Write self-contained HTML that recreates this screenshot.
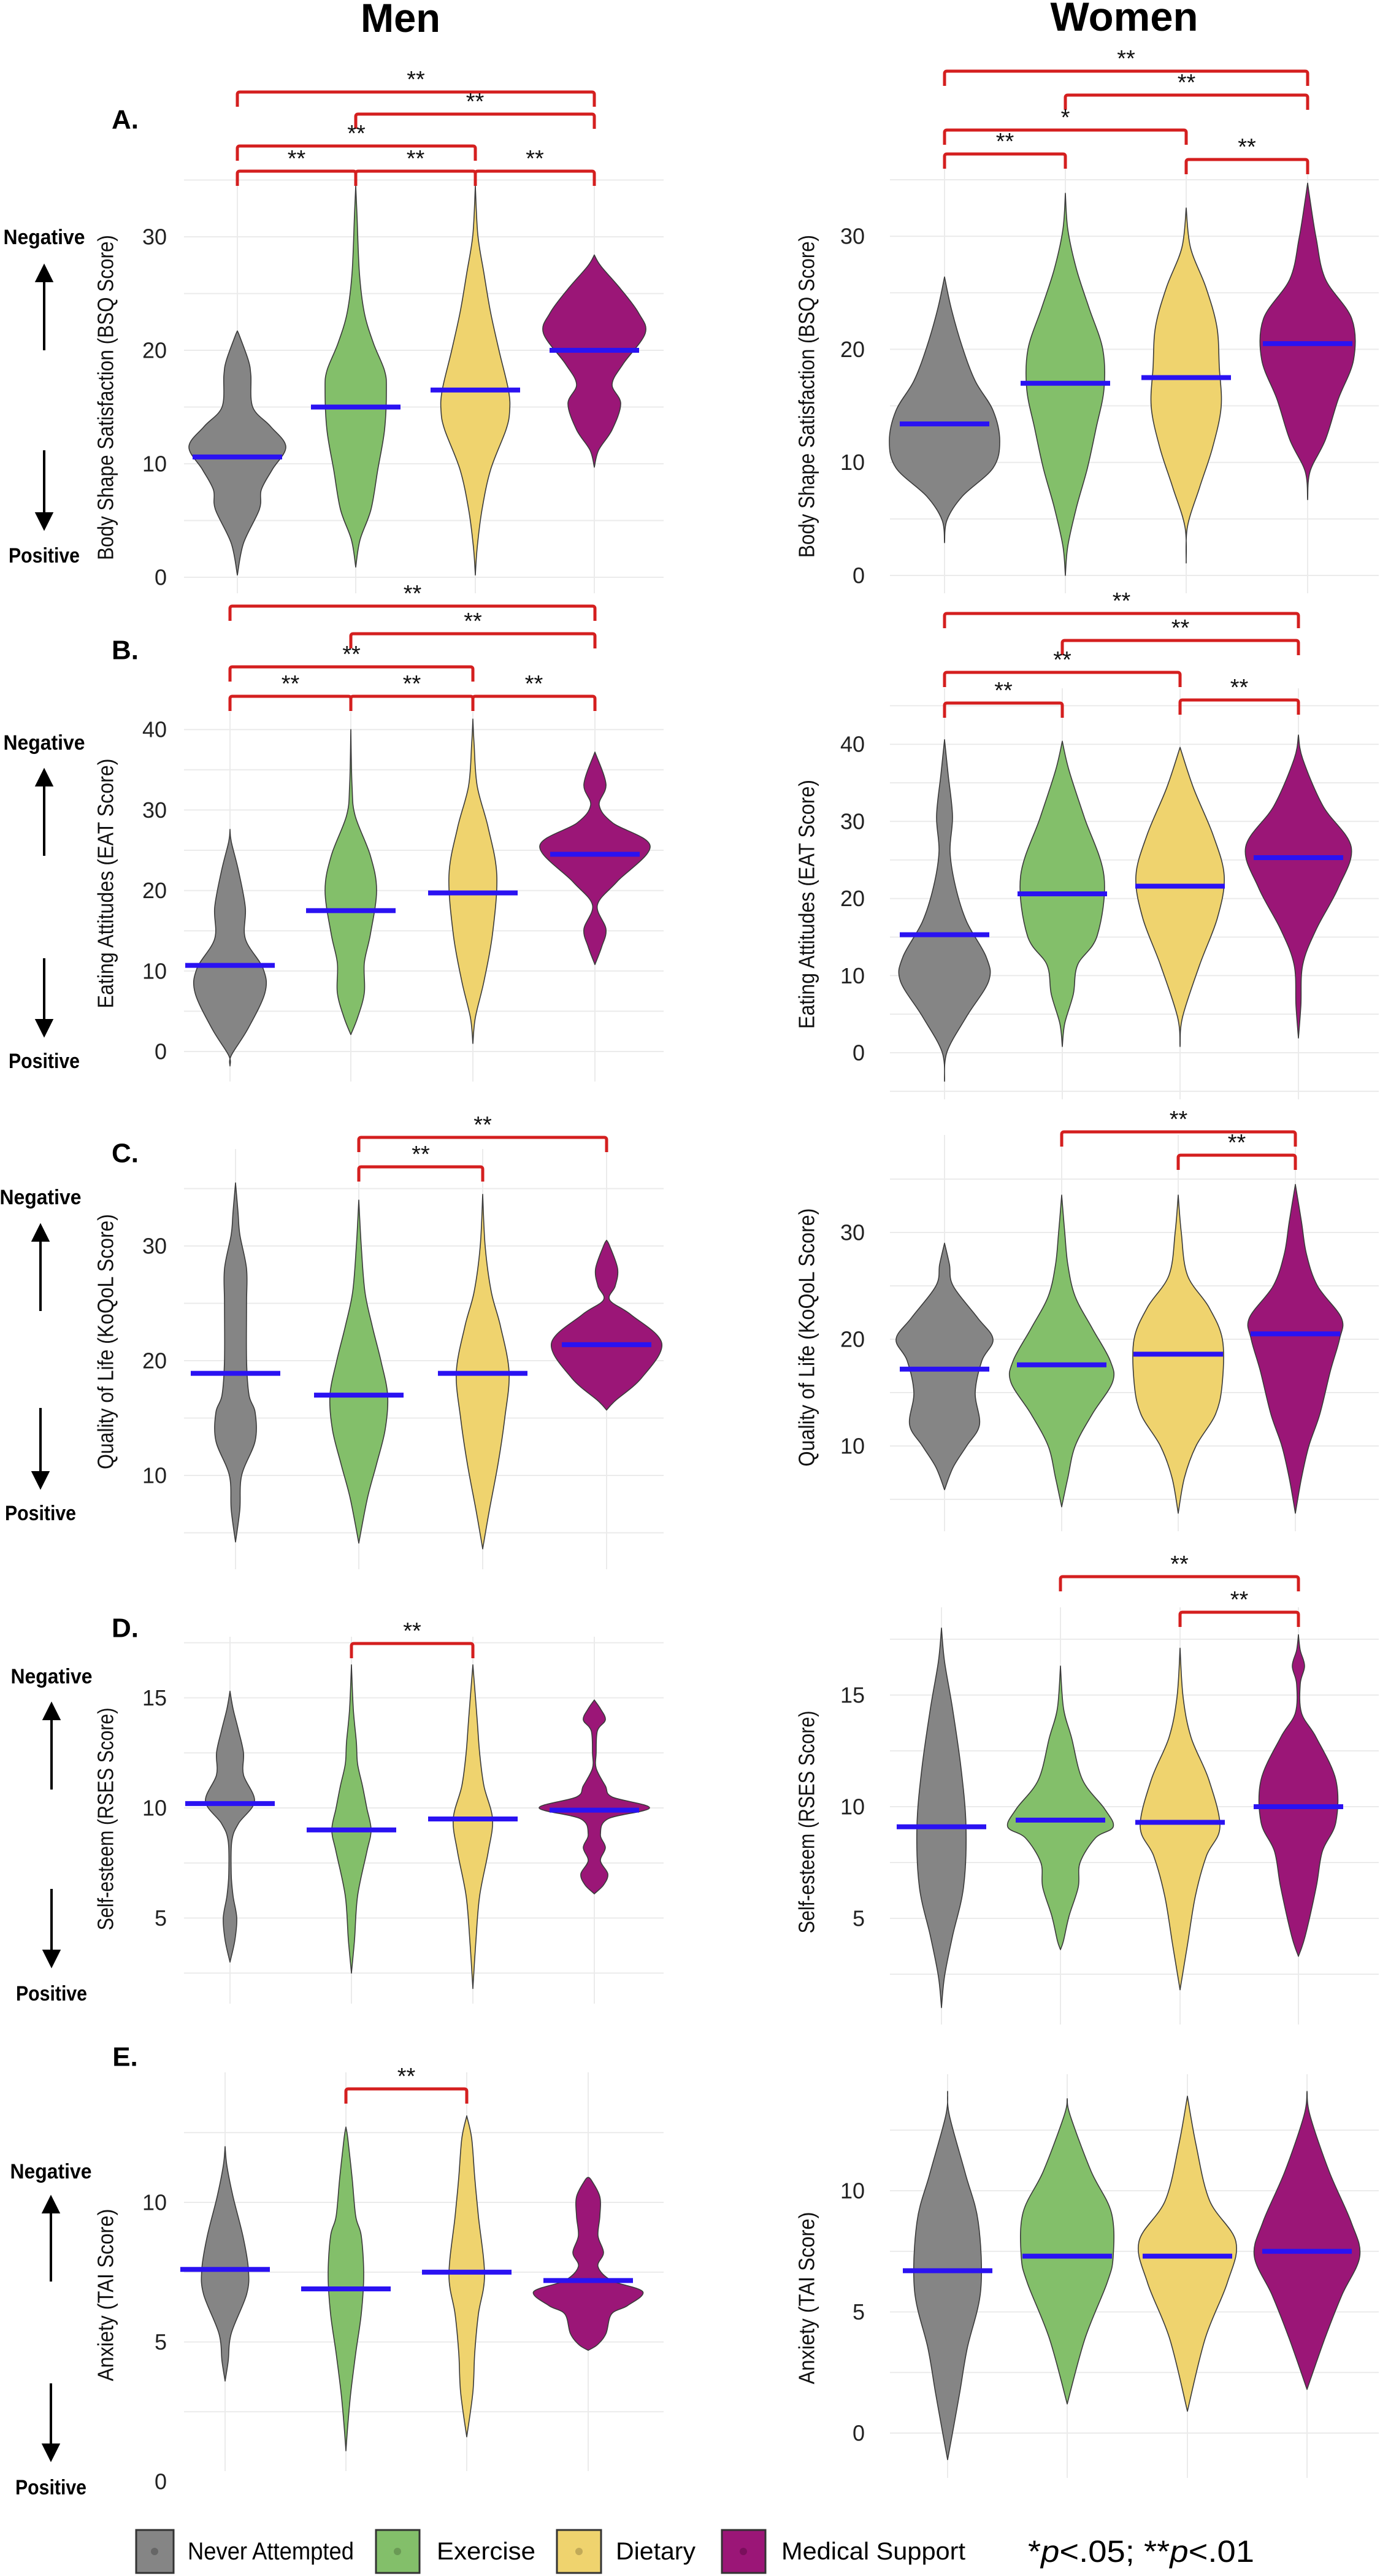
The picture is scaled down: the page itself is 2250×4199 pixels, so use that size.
<!DOCTYPE html>
<html><head><meta charset="utf-8"><title>Violin plots - Men vs Women</title>
<style>
html,body{margin:0;padding:0;background:#fff;}
svg{display:block;}
text{font-family:"Liberation Sans",sans-serif;}
</style></head>
<body>
<svg id="fig" xmlns="http://www.w3.org/2000/svg" width="2250" height="4199" viewBox="0 0 2250 4199">
<rect x="0" y="0" width="2250" height="4199" fill="#fff"/>
<text x="653" y="52" font-size="66" font-weight="bold" text-anchor="middle" textLength="130" lengthAdjust="spacingAndGlyphs">Men</text>
<text x="1833" y="50" font-size="66" font-weight="bold" text-anchor="middle" textLength="241" lengthAdjust="spacingAndGlyphs">Women</text>
<g id="layer"></g>
<g id="legend">
  <rect x="222" y="4124" width="61" height="70" fill="#858585" stroke="#333" stroke-width="3"/>
  <circle cx="252" cy="4159" r="6" fill="#666"/>
  <text x="306" y="4172" font-size="40" textLength="271" lengthAdjust="spacingAndGlyphs">Never Attempted</text>
  <rect x="613" y="4124" width="71" height="70" fill="#83bf6a" stroke="#333" stroke-width="3"/>
  <circle cx="648" cy="4159" r="6" fill="#6a9a55"/>
  <text x="712" y="4172" font-size="40" textLength="161" lengthAdjust="spacingAndGlyphs">Exercise</text>
  <rect x="908" y="4124" width="72" height="70" fill="#efd36e" stroke="#333" stroke-width="3"/>
  <circle cx="944" cy="4159" r="6" fill="#c2aa58"/>
  <text x="1004" y="4172" font-size="40" textLength="130" lengthAdjust="spacingAndGlyphs">Dietary</text>
  <rect x="1177" y="4124" width="71" height="70" fill="#9b1677" stroke="#333" stroke-width="3"/>
  <circle cx="1212" cy="4159" r="6" fill="#7a0f5c"/>
  <text x="1274" y="4172" font-size="40" textLength="300" lengthAdjust="spacingAndGlyphs">Medical Support</text>
  <text x="1676" y="4176" font-size="50" textLength="369" lengthAdjust="spacingAndGlyphs">*<tspan font-style="italic">p</tspan>&lt;.05; **<tspan font-style="italic">p</tspan>&lt;.01</text>
</g>
</svg>
<script>
// ---- data ----
const groups = ["Never Attempted","Exercise","Dietary","Medical Support"];
const menA_medians = [10.6,15,16.5,20];
const menA_gray = [[0.2,0],[3,0.1],[6,0.36],[7.7,0.39],[9.5,0.57],[11.5,0.79],[13.3,0.54],[15,0.25],[17.8,0.22],[19.1,0.18],[21.2,0.04],[21.7,0]];
const menA_green = [[0.9,0],[3.3,0.07],[6,0.25],[9.5,0.36],[13,0.47],[16.5,0.5],[18.2,0.47],[20.6,0.29],[23.3,0.14],[26.8,0.06],[32,0.02],[34.5,0]];
const menA_yellow = [[0.2,0],[2.6,0.03],[6,0.11],[9.5,0.25],[13,0.5],[14.7,0.56],[16.5,0.54],[19.9,0.39],[23.3,0.25],[26.8,0.14],[30.2,0.04],[34.5,0]];
const menA_purple = [[9.7,0],[11.2,0.07],[13,0.29],[15.3,0.43],[17,0.29],[18.8,0.47],[21.5,0.83],[23.3,0.72],[25.4,0.43],[27.4,0.11],[28.4,0]];
const menA_ticks = [0,10,20,30];

const womenA_medians = [13.4,17,17.5,20.5];
const womenA_gray = [[2.9,0],[4.9,0.04],[7,0.29],[9.5,0.79],[11.9,0.9],[14.6,0.79],[17.2,0.5],[20.2,0.29],[23.6,0.11],[26.4,0]];
const womenA_green = [[0,0],[2.6,0.04],[6,0.18],[9.5,0.36],[13,0.5],[16.5,0.63],[20,0.61],[23.6,0.39],[27.1,0.18],[30.6,0.04],[33.8,0]];
const womenA_yellow = [[1.1,0],[4.3,0.02],[7.8,0.22],[11.3,0.43],[14.9,0.57],[18.4,0.54],[22,0.5],[25.5,0.32],[29,0.07],[32.5,0]];
const womenA_purple = [[6.7,0],[9.2,0.04],[12,0.29],[15.6,0.5],[19.1,0.75],[22.7,0.72],[26.2,0.29],[29.8,0.14],[33.2,0.04],[34.7,0]];
const womenA_ticks = [0,10,20,30];

const menB_medians = [10.7,17.5,19.7,24.5];
const menB_gray = [[-1.8,0],[-0.5,0.02],[2.8,0.29],[7.3,0.57],[10.3,0.54],[14,0.25],[17.9,0.25],[22.4,0.14],[26.1,0.02],[27.6,0]];
const menB_green = [[2.1,0],[4.2,0.11],[7.3,0.22],[11,0.22],[14.6,0.32],[20,0.42],[24.3,0.32],[29.3,0.07],[33,0.02],[40,0]];
const menB_yellow = [[1,0],[4.2,0.04],[8.7,0.18],[14.6,0.32],[21.9,0.39],[27.8,0.25],[33,0.07],[38.2,0.02],[41.3,0]];
const menB_purple = [[10.8,0],[13,0.11],[15.2,0.18],[18.2,0.04],[21.1,0.36],[25.5,0.9],[28.4,0.29],[30.6,0.07],[33.2,0.18],[37.2,0]];
const menB_ticks = [0,10,20,30,40];

const womenB_medians = [15.3,20.6,21.6,25.3];
const womenB_gray = [[-3.7,0],[0.1,0.04],[4.7,0.36],[9.3,0.72],[12.4,0.68],[17,0.36],[21.5,0.18],[26.1,0.09],[30.7,0.13],[36,0.06],[40.6,0]];
const womenB_green = [[0.8,0],[3.8,0.04],[7.6,0.18],[11.4,0.25],[15.2,0.57],[22.9,0.68],[30.5,0.36],[36.6,0.11],[40.4,0]];
const womenB_yellow = [[0.8,0],[4.6,0.04],[11.4,0.32],[17.5,0.61],[22.9,0.72],[28.2,0.54],[34.3,0.22],[39.6,0]];
const womenB_purple = [[1.9,0],[6.1,0.04],[11.4,0.07],[16,0.29],[21.4,0.65],[26.7,0.86],[32,0.4],[38.1,0.07],[41.2,0]];
const womenB_ticks = [0,10,20,30,40];

const menC_medians = [18.9,17,18.9,21.4];
const menC_gray = [[4.2,0],[7,0.07],[10,0.1],[13,0.32],[15.5,0.32],[17,0.22],[20,0.18],[25,0.18],[28,0.18],[31,0.07],[33,0.04],[35.5,0]];
const menC_green = [[4.1,0],[8,0.14],[11,0.29],[14,0.43],[17,0.47],[20,0.36],[23,0.22],[26,0.1],[30,0.04],[34,0]];
const menC_yellow = [[3.6,0],[7,0.11],[11,0.25],[15,0.36],[19,0.43],[23,0.29],[26,0.14],[30,0.04],[34.5,0]];
const menC_purple = [[15.7,0],[16.5,0.14],[18.5,0.57],[21.5,0.9],[24,0.4],[25.3,0.05],[26.5,0.14],[28,0.18],[30,0.05],[30.5,0]];
const menC_ticks = [10,20,30];

const womenC_medians = [17.2,17.6,18.6,20.5];
const womenC_gray = [[5.9,0],[8,0.14],[10,0.36],[12,0.57],[15,0.5],[18,0.61],[20,0.79],[22,0.54],[25,0.14],[27,0.08],[29,0]];
const womenC_green = [[4.3,0],[7,0.1],[10,0.22],[13,0.5],[16,0.83],[18,0.79],[21,0.5],[24,0.22],[27,0.1],[30,0.05],[33.5,0]];
const womenC_yellow = [[3.7,0],[7,0.1],[10,0.29],[13,0.61],[16,0.72],[20,0.72],[23,0.5],[26,0.15],[30,0.05],[33.5,0]];
const womenC_purple = [[3.7,0],[7,0.1],[10,0.22],[13,0.4],[17,0.57],[20,0.72],[22,0.75],[25,0.36],[28,0.18],[31,0.1],[34.5,0]];
const womenC_ticks = [10,20,30];

const menD_medians = [10.2,9,9.5,9.9];
const menD_gray = [[3,0],[4,0.08],[5,0.11],[6,0.05],[7,0.02],[8.5,0.03],[9.3,0.14],[10.3,0.4],[11.5,0.22],[12.5,0.22],[13.5,0.14],[14.5,0.05],[15.3,0]];
const menD_green = [[2.5,0],[4,0.05],[6,0.1],[8,0.25],[9,0.32],[10,0.25],[11,0.18],[12,0.1],[13,0.08],[14.5,0.03],[16.5,0]];
const menD_yellow = [[1.8,0],[4,0.05],[6,0.11],[8,0.25],[9.5,0.32],[11,0.18],[12.5,0.11],[14,0.07],[16.5,0]];
const menD_purple = [[6.1,0],[6.5,0.15],[7,0.22],[7.6,0.1],[8.2,0.18],[8.8,0.1],[9.5,0.22],[10,0.9],[10.5,0.29],[11,0.18],[11.8,0.03],[12.5,0.03],[13.5,0.05],[14,0.18],[14.5,0.1],[14.9,0]];
const menD_ticks = [5,10,15];

const womenD_medians = [9.1,9.4,9.3,10];
const womenD_gray = [[1,0],[2.4,0.05],[4.2,0.18],[6.4,0.36],[9.1,0.4],[11.7,0.32],[14.4,0.18],[16.5,0.05],[18,0]];
const womenD_green = [[3.6,0],[4,0.05],[5.1,0.14],[6.4,0.29],[7.5,0.32],[8.6,0.57],[9.1,0.86],[9.9,0.72],[11.2,0.36],[13.1,0.18],[14.4,0.05],[16.3,0]];
const womenD_yellow = [[1.8,0],[3.8,0.12],[6,0.25],[7.8,0.43],[9.1,0.65],[11.2,0.47],[13.1,0.18],[14.9,0.05],[17.1,0]];
const womenD_purple = [[3.3,0],[4.2,0.11],[6.4,0.29],[8,0.39],[9.3,0.61],[11.2,0.61],[13.1,0.29],[14.2,0.05],[15.5,0.03],[16.3,0.1],[17,0.03],[17.7,0]];
const womenD_ticks = [5,10,15];

const menE_medians = [7.6,6.9,7.5,7.2];
const menE_gray = [[3.6,0],[4.3,0.05],[5.3,0.1],[6.7,0.35],[7.6,0.38],[8.8,0.29],[10.2,0.13],[11.3,0.03],[12,0]];
const menE_green = [[1.1,0],[2,0.03],[3.2,0.08],[4.6,0.16],[6,0.25],[7.4,0.29],[8.8,0.25],[9.5,0.16],[10.9,0.1],[12.3,0.03],[12.7,0]];
const menE_yellow = [[1.6,0],[3.2,0.1],[4.6,0.13],[6,0.19],[7.4,0.29],[9.5,0.19],[10.9,0.13],[12.3,0.08],[13.1,0]];
const menE_purple = [[4.7,0],[4.9,0.15],[5.3,0.29],[6,0.38],[6.3,0.64],[6.8,0.89],[7.2,0.38],[7.7,0.16],[8.2,0.25],[8.8,0.16],[9.5,0.19],[10.2,0.19],[10.8,0.05],[10.9,0]];
const menE_ticks = [0,5,10];

const womenE_medians = [6.7,7.3,7.3,7.5];
const womenE_gray = [[-1.1,0],[0,0.08],[1.7,0.2],[3.5,0.32],[5.9,0.54],[8.7,0.5],[10.7,0.29],[13.1,0.03],[14.1,0]];
const womenE_green = [[1.2,0],[3.9,0.29],[6.2,0.65],[7.3,0.75],[9.1,0.72],[10.8,0.39],[13.1,0.05],[13.8,0]];
const womenE_yellow = [[0.9,0],[3.9,0.29],[6.2,0.65],[7.9,0.79],[9.6,0.36],[11.9,0.14],[13.9,0]];
const womenE_purple = [[1.8,0],[3.9,0.29],[5.7,0.57],[7.3,0.86],[8.7,0.72],[10.8,0.36],[13.1,0.05],[14.1,0]];
const womenE_ticks = [0,5,10];

// significance comparisons: [groupIndexA, groupIndexB, label]
const menA_sig = [[0,3,"**"],[1,3,"**"],[0,2,"**"],[0,1,"**"],[1,2,"**"],[2,3,"**"]];
const womenA_sig = [[0,3,"**"],[1,3,"**"],[0,2,"*"],[0,1,"**"],[2,3,"**"]];
const menB_sig = [[0,3,"**"],[1,3,"**"],[0,2,"**"],[0,1,"**"],[1,2,"**"],[2,3,"**"]];
const womenB_sig = [[0,3,"**"],[1,3,"**"],[0,2,"**"],[0,1,"**"],[2,3,"**"]];
const menC_sig = [[1,3,"**"],[1,2,"**"]];
const womenC_sig = [[1,3,"**"],[2,3,"**"]];
const menD_sig = [[1,2,"**"]];
const womenD_sig = [[1,3,"**"],[2,3,"**"]];
const menE_sig = [[1,2,"**"]];
const womenE_sig = [];

// ---- layout ----
const COLORS = ["#858585","#83bf6a","#efd36e","#9b1677"];
const GNAMES = ["never-attempted","exercise","dietary","medical-support"];
const HW = 100;
const MEN = {xL:300,xR:1082,tickX:272,titleX:172};
const WOMEN = {xL:1451,xR:2248,tickX:1410,titleX:1315};
const panels = [
 {id:"men-a",side:MEN,y0:941,k:18.5,cx:[387,580,775,969],top:293,bot:967,minor:5,ticks:menA_ticks,med:menA_medians,vi:[menA_gray,menA_green,menA_yellow,menA_purple],sig:menA_sig,sigY:[150,186,238,279,279,279],title:"Body Shape Satisfaction (BSQ Score)",tY:648,tL:530,letter:"A.",lY:195,arrows:{x:72,n:387,p:906,u:[434,571],d:[734,861]}},
 {id:"women-a",side:WOMEN,y0:938,k:18.43,cx:[1540,1737,1934,2132],top:274,bot:967,minor:5,ticks:womenA_ticks,med:womenA_medians,vi:[womenA_gray,womenA_green,womenA_yellow,womenA_purple],sig:womenA_sig,sigY:[116,155,212,251,260],title:"Body Shape Satisfaction (BSQ Score)",tY:646,tL:526},
 {id:"men-b",side:MEN,y0:1714,k:13.12,cx:[375,572,771,970],top:1160,bot:1763,minor:5,ticks:menB_ticks,med:menB_medians,vi:[menB_gray,menB_green,menB_yellow,menB_purple],sig:menB_sig,sigY:[988,1033,1087,1135,1135,1135],title:"Eating Attitudes (EAT Score)",tY:1440,tL:407,letter:"B.",lY:1060,arrows:{x:72,n:1211,p:1730,u:[1256,1395],d:[1562,1687]}},
 {id:"women-b",side:WOMEN,y0:1716,k:12.57,cx:[1540,1732,1924,2117],top:1122,bot:1792,minor:5,ticks:womenB_ticks,med:womenB_medians,vi:[womenB_gray,womenB_green,womenB_yellow,womenB_purple],sig:womenB_sig,sigY:[1000,1044,1096,1146,1141],title:"Eating Attitudes (EAT Score)",tY:1474,tL:406},
 {id:"men-c",side:MEN,y0:2592,k:18.7,cx:[384,585,787,989],top:1873,bot:2558,minor:5,ticks:menC_ticks,med:menC_medians,vi:[menC_gray,menC_green,menC_yellow,menC_purple],sig:menC_sig,sigY:[1854,1902],title:"Quality of Life (KoQoL Score)",tY:2187,tL:416,letter:"C.",lY:1880,arrows:{x:66,n:1952,p:2467,u:[1998,2137],d:[2295,2424]}},
 {id:"women-c",side:WOMEN,y0:2531,k:17.4,cx:[1540,1731,1921,2112],top:1850,bot:2496,minor:5,ticks:womenC_ticks,med:womenC_medians,vi:[womenC_gray,womenC_green,womenC_yellow,womenC_purple],sig:womenC_sig,sigY:[1845,1883],title:"Quality of Life (KoQoL Score)",tY:2180,tL:421},
 {id:"men-d",side:MEN,y0:3306,k:35.9,cx:[375,573,771,969],top:2668,bot:3266,minor:2.5,ticks:menD_ticks,med:menD_medians,vi:[menD_gray,menD_green,menD_yellow,menD_purple],sig:menD_sig,sigY:[2679],title:"Self-esteem (RSES Score)",tY:2965,tL:363,letter:"D.",lY:2654,arrows:{x:84,n:2733,p:3250,u:[2778,2917],d:[3079,3204]}},
 {id:"women-d",side:WOMEN,y0:3309,k:36.4,cx:[1535,1729,1924,2117],top:2620,bot:3300,minor:2.5,ticks:womenD_ticks,med:womenD_medians,vi:[womenD_gray,womenD_green,womenD_yellow,womenD_purple],sig:womenD_sig,sigY:[2570,2628],title:"Self-esteem (RSES Score)",tY:2970,tL:363},
 {id:"men-e",side:MEN,y0:4045,k:45.5,cx:[367,564,761,959],top:3378,bot:4028,minor:2.5,ticks:menE_ticks,med:menE_medians,vi:[menE_gray,menE_green,menE_yellow,menE_purple],sig:menE_sig,sigY:[3405],title:"Anxiety (TAI Score)",tY:3741,tL:281,letter:"E.",lY:3353,arrows:{x:83,n:3540,p:4055,u:[3582,3719],d:[3885,4009]}},
 {id:"women-e",side:WOMEN,y0:3966,k:39.5,cx:[1545,1740,1936,2131],top:3381,bot:4039,minor:2.5,ticks:womenE_ticks,med:womenE_medians,vi:[womenE_gray,womenE_green,womenE_yellow,womenE_purple],sig:womenE_sig,sigY:[],title:"Anxiety (TAI Score)",tY:3746,tL:281}
];

const NS = "http://www.w3.org/2000/svg";
const layer = document.getElementById("layer");
function mk(tag, attrs, parent){
  const e = document.createElementNS(NS, tag);
  for (const a in attrs) e.setAttribute(a, attrs[a]);
  (parent||layer).appendChild(e);
  return e;
}
function smoothPath(pts){
  // Catmull-Rom to cubic bezier through pts
  let d = "M" + pts[0][0].toFixed(1) + "," + pts[0][1].toFixed(1);
  for (let i=0;i<pts.length-1;i++){
    const p0 = pts[Math.max(0,i-1)], p1 = pts[i], p2 = pts[i+1], p3 = pts[Math.min(pts.length-1,i+2)];
    const c1 = [p1[0]+(p2[0]-p0[0])/6, p1[1]+(p2[1]-p0[1])/6];
    const c2 = [p2[0]-(p3[0]-p1[0])/6, p2[1]-(p3[1]-p1[1])/6];
    d += " C"+c1[0].toFixed(1)+","+c1[1].toFixed(1)+" "+c2[0].toFixed(1)+","+c2[1].toFixed(1)+" "+p2[0].toFixed(1)+","+p2[1].toFixed(1);
  }
  return d;
}

panels.forEach(P => {
  const y = v => P.y0 - P.k * v;
  const g = mk("g", {});
  
  

  // horizontal gridlines
  const vMin = (P.y0 - P.bot) / P.k, vMax = (P.y0 - P.top) / P.k;
  for (let v = Math.ceil(vMin / P.minor) * P.minor; v <= vMax + 1e-9; v += P.minor){
    const gl = mk("line", {x1:P.side.xL, x2:P.side.xR, y1:y(v), y2:y(v), stroke:"#ebebeb", "stroke-width":2}, g);
    
    
  }
  // vertical gridlines
  P.cx.forEach((cx, i) => {
    const vl = mk("line", {x1:cx, x2:cx, y1:P.top, y2:P.bot, stroke:"#ebebeb", "stroke-width":2}, g);
    
    
  });
  // tick labels
  P.ticks.forEach(t => {
    const tl = mk("text", {x:P.side.tickX, y:y(t), "font-size":36, "text-anchor":"end", "dominant-baseline":"central", fill:"#222"}, g);
    tl.textContent = String(t);
    
    
  });
  // axis title
  const at = mk("text", {x:0, y:0, "font-size":36, "text-anchor":"middle", "dominant-baseline":"central", fill:"#111", textLength:P.tL, lengthAdjust:"spacingAndGlyphs", transform:"translate("+P.side.titleX+","+P.tY+") rotate(-90)"}, g);
  at.textContent = P.title;
  
  

  // violins
  P.vi.forEach((prof, i) => {
    const cx = P.cx[i];
    const right = prof.map(p => [cx + p[1]*HW, y(p[0])]);
    const left = prof.slice().reverse().map(p => [cx - p[1]*HW, y(p[0])]);
    const d = smoothPath(right) + " L" + smoothPath(left).slice(1) + " Z";
    const vp = mk("path", {d:d, fill:COLORS[i], stroke:"#3a3a3a", "stroke-width":1.6, "stroke-linejoin":"round"}, g);
    
    
  });
  // medians
  P.med.forEach((m, i) => {
    const ml = mk("line", {x1:P.cx[i]-73, x2:P.cx[i]+73, y1:y(m), y2:y(m), stroke:"#2a12f2", "stroke-width":8}, g);
    
    
  });
  // significance brackets
  P.sig.forEach((s, j) => {
    const by = P.sigY[j], xa = P.cx[s[0]], xb = P.cx[s[1]];
    const br = mk("path", {d:"M"+xa+","+(by+24)+" L"+xa+","+(by+4)+" Q"+xa+","+by+" "+(xa+4)+","+by+" L"+(xb-4)+","+by+" Q"+xb+","+by+" "+xb+","+(by+4)+" L"+xb+","+(by+24), fill:"none", stroke:"#d41f1f", "stroke-width":5}, g);
    
    
    const st = mk("text", {x:(xa+xb)/2, y:by-8, "font-size":38, "text-anchor":"middle", fill:"#111"}, g);
    st.textContent = s[2];
    
    
  });
  // panel letter + direction arrows (men column only)
  if (P.letter){
    const lt = mk("text", {x:204, y:P.lY, "font-size":44, "font-weight":"bold", "text-anchor":"middle", "dominant-baseline":"central", fill:"#000"}, g);
    lt.textContent = P.letter;
    
    
    const A = P.arrows;
    const nt = mk("text", {x:A.x, y:A.n, "font-size":34, "font-weight":"bold", "text-anchor":"middle", "dominant-baseline":"central", textLength:133, lengthAdjust:"spacingAndGlyphs"}, g);
    nt.textContent = "Negative";
    
    
    const pt = mk("text", {x:A.x, y:A.p, "font-size":34, "font-weight":"bold", "text-anchor":"middle", "dominant-baseline":"central", textLength:116, lengthAdjust:"spacingAndGlyphs"}, g);
    pt.textContent = "Positive";
    
    
    const ua = mk("path", {d:"M"+A.x+","+A.u[1]+" L"+A.x+","+(A.u[0]+20)+" M"+(A.x-12)+","+(A.u[0]+24)+" L"+A.x+","+A.u[0]+" L"+(A.x+12)+","+(A.u[0]+24)+" Z", stroke:"#000", "stroke-width":4, fill:"#000"}, g);
    
    
    const da = mk("path", {d:"M"+A.x+","+A.d[0]+" L"+A.x+","+(A.d[1]-20)+" M"+(A.x-12)+","+(A.d[1]-24)+" L"+A.x+","+A.d[1]+" L"+(A.x+12)+","+(A.d[1]-24)+" Z", stroke:"#000", "stroke-width":4, fill:"#000"}, g);
    
    
  }
});
</script>
</body></html>
